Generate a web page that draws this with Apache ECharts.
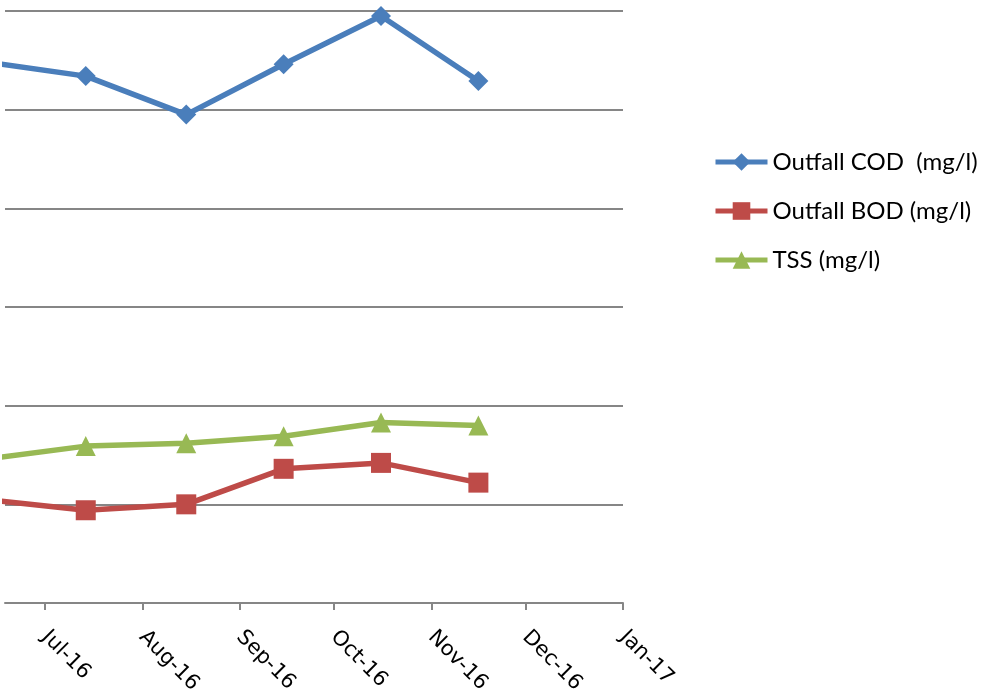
<!DOCTYPE html>
<html>
<head>
<meta charset="utf-8">
<title>Outfall COD, BOD and TSS</title>
<script src="https://cdn.jsdelivr.net/npm/echarts@6/dist/echarts.min.js"></script>
<style>
  html, body { margin: 0; padding: 0; background: #ffffff; }
  #chart { width: 983px; height: 698px; }
</style>
</head>
<body>
<div id="chart"></div>
<script>
// Monthly sampling dates and measured concentrations (mg/l)
const sampleDates = ['2016-06-15', '2016-07-14', '2016-08-15', '2016-09-15', '2016-10-16', '2016-11-16'];
const codValues = [547, 534, 495, 546, 595, 529];
const bodValues = [104, 94, 100, 136, 142, 122];
const tssValues = [147, 159, 162, 169, 183, 180];

const seriesNames = ['Outfall COD  (mg/l)', 'Outfall BOD (mg/l)', 'TSS (mg/l)'];
const monthLabels = ['Jan', 'Feb', 'Mar', 'Apr', 'May', 'Jun', 'Jul', 'Aug', 'Sep', 'Oct', 'Nov', 'Dec'];

// Visible date window of the x axis and the value range of the y axis
const axisStart = '2016-06-18 07:00';
const axisEnd = '2017-01-01 01:00';
const yTicks = [0, 100, 200, 300, 400, 500, 600];

const DAY = 86400000;
const GRID_GRAY = '#868686';

function pairs(values) {
  return sampleDates.map((d, i) => [d, values[i]]);
}

function lineSeries(name, values, color, symbol) {
  return {
    name: name,
    type: 'line',
    data: pairs(values),
    symbol: symbol,
    symbolSize: 20,
    clip: true,
    lineStyle: { color: color, width: 5.5 },
    itemStyle: { color: color },
    emphasis: { disabled: true }
  };
}

const chart = echarts.init(document.getElementById('chart'), null, { renderer: 'canvas' });

chart.setOption({
  animation: false,
  backgroundColor: '#ffffff',
  grid: { left: 5, right: 360, top: 11, bottom: 95, containLabel: false },
  xAxis: {
    type: 'time',
    min: axisStart,
    max: axisEnd,
    splitNumber: 7,
    minInterval: 28 * DAY,
    maxInterval: 31 * DAY,
    axisLine: { show: true, lineStyle: { color: GRID_GRAY, width: 2 } },
    axisTick: { show: true, length: 7, lineStyle: { color: GRID_GRAY, width: 2 } },
    splitLine: { show: false },
    axisLabel: {
      rotate: -45,
      margin: 31,
      color: '#000000',
      fontFamily: 'DejaVu Sans',
      fontSize: 21,
      hideOverlap: false,
      showMaxLabel: true,
      formatter: function (value) {
        const d = new Date(value);
        return monthLabels[d.getMonth()] + '-' + String(d.getFullYear()).slice(2);
      }
    }
  },
  yAxis: {
    type: 'value',
    min: yTicks[0],
    max: yTicks[yTicks.length - 1],
    interval: yTicks[1] - yTicks[0],
    axisLine: { show: false },
    axisTick: { show: false },
    axisLabel: { show: false },
    splitLine: { show: true, lineStyle: { color: GRID_GRAY, width: 2 } }
  },
  legend: {
    orient: 'vertical',
    left: 708,
    top: 145,
    itemWidth: 52,
    itemHeight: 22,
    itemGap: 25,
    lineStyle: { width: 5 },
    textStyle: { fontFamily: 'Lato', fontSize: 24, color: '#000000', padding: [0, 0, 0, 0] },
    data: seriesNames
  },
  series: [
    lineSeries(seriesNames[0], codValues, '#4A7EBB', 'diamond'),
    lineSeries(seriesNames[1], bodValues, '#BE4B48', 'rect'),
    lineSeries(seriesNames[2], tssValues, '#98B954', 'triangle')
  ]
});
</script>
</body>
</html>
